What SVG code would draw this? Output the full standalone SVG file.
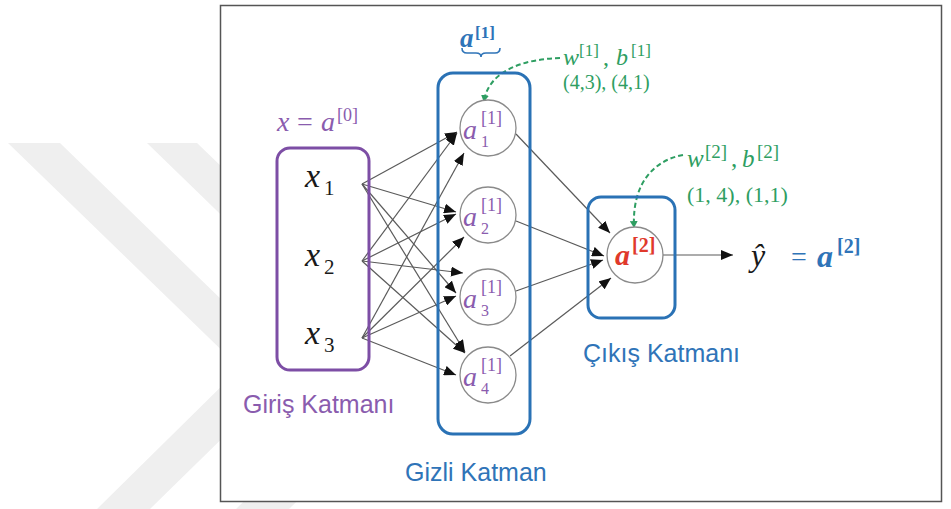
<svg xmlns="http://www.w3.org/2000/svg" width="951" height="509" viewBox="0 0 951 509">
<style>
.mi{font-family:"Liberation Serif",serif;font-style:italic}
.up{font-family:"Liberation Serif",serif;font-style:normal}
.sans{font-family:"Liberation Sans",Arial,sans-serif}
.pur{fill:#8a5cae}
.blu{fill:#2f74b8}
.grn{fill:#2e9e62}
.red{fill:#e0392b}
.blk{fill:#1a1a1a}
.conn{stroke:#5a5a5a;stroke-width:1.2;fill:none;marker-end:url(#ah)}
.dash{stroke:#2e9e62;stroke-width:2;stroke-dasharray:5 3;fill:none;marker-end:url(#gh)}
.node{fill:#fff;stroke:#8a8a8a;stroke-width:1.3}
.hb{fill:none;stroke:#2a72b5;stroke-width:3}
.pb{fill:none;stroke:#7d4ea5;stroke-width:3}
.lbl{font-size:25px}
.ha{font-size:28px}
.hs{font-size:18px}
.hd{font-size:16px}
</style>
<defs>
<marker id="ah" markerUnits="userSpaceOnUse" markerWidth="13" markerHeight="10" refX="12" refY="5" orient="auto">
<path d="M0,0 L12,5 L0,10 z" fill="#111"/>
</marker>
<marker id="gh" markerUnits="userSpaceOnUse" markerWidth="8" markerHeight="8" refX="6" refY="4" orient="auto">
<path d="M0,0 L7,4 L0,8 z" fill="#2e9e62"/>
</marker>
</defs>
<rect x="0" y="0" width="951" height="509" fill="#fff"/>
<g id="watermark" fill="#efefef">
<polygon points="8,143 60,143 293,369 150,509 97,509 240,368"/>
<polygon points="147,143 197,143 432,369 289,509 236,509 379,368"/>
</g>
<rect id="frame" x="220.5" y="5.5" width="721" height="496" fill="#fff" stroke="#555" stroke-width="1.5"/>

<g id="connectors">
<line class="conn" x1="362" y1="184" x2="457" y2="132"/>
<line class="conn" x1="362" y1="261" x2="457" y2="133"/>
<line class="conn" x1="362" y1="338" x2="464" y2="153"/>
<line class="conn" x1="362" y1="184" x2="456" y2="212"/>
<line class="conn" x1="362" y1="261" x2="456" y2="214"/>
<line class="conn" x1="362" y1="338" x2="464" y2="237"/>
<line class="conn" x1="362" y1="184" x2="456" y2="293"/>
<line class="conn" x1="362" y1="261" x2="463" y2="273"/>
<line class="conn" x1="362" y1="338" x2="456" y2="296"/>
<line class="conn" x1="362" y1="184" x2="465" y2="352"/>
<line class="conn" x1="362" y1="261" x2="465" y2="353"/>
<line class="conn" x1="362" y1="338" x2="456" y2="375"/>
<line class="conn" x1="516" y1="134" x2="610" y2="233"/>
<line class="conn" x1="516" y1="221" x2="604" y2="256"/>
<line class="conn" x1="516" y1="291" x2="603" y2="260"/>
<line class="conn" x1="510" y1="356" x2="611" y2="278"/>
<line class="conn" x1="662" y1="255" x2="733" y2="255"/>
<path class="dash" d="M560,58 C525,59 489,70 484,101"/>
<path class="dash" d="M683,155 C655,160 632,182 634,227"/>
</g>

<g id="input-layer">
<rect class="pb" x="277" y="148" width="92" height="222" rx="13"/>
<text class="mi pur" x="277" y="131" font-size="28">x</text>
<text class="up pur" x="297" y="131" font-size="28">=</text>
<text class="mi pur" x="321" y="131" font-size="28">a</text>
<text class="up pur" x="337" y="121" font-size="18">[0]</text>
<text class="sans pur lbl" x="243" y="413">Giriş Katmanı</text>
</g>
<g id="x1"><text class="mi blk" x="305" y="187" font-size="34">x</text><text class="up blk" x="324" y="195" font-size="21">1</text></g>
<g id="x2"><text class="mi blk" x="305" y="266" font-size="34">x</text><text class="up blk" x="324" y="274" font-size="21">2</text></g>
<g id="x3"><text class="mi blk" x="305" y="344" font-size="34">x</text><text class="up blk" x="324" y="352" font-size="21">3</text></g>

<g id="hidden-layer">
<rect class="hb" x="438" y="73" width="92" height="361" rx="15"/>
<text class="mi blu" x="460" y="47" font-size="27" font-weight="bold">a</text>
<text class="up blu" x="475" y="38" font-size="17" font-weight="bold">[1]</text>
<path d="M462,48 Q462,53 467,53 L476,53 Q481,53 481,57 Q481,53 486,53 L495,53 Q500,53 500,48" fill="none" stroke="#2f74b8" stroke-width="1.6"/>
<text class="mi grn" x="563" y="65" font-size="24">w</text>
<text class="up grn" x="579" y="56" font-size="17">[1]</text>
<text class="up grn" x="603" y="65" font-size="24">,</text>
<text class="mi grn" x="616" y="65" font-size="24">b</text>
<text class="up grn" x="631" y="56" font-size="17">[1]</text>
<text class="up grn" x="563" y="89" font-size="20">(4,3), (4,1)</text>
<text class="sans blu lbl" x="405" y="481">Gizli Katman</text>
</g>
<g id="a1"><circle class="node" cx="488" cy="128" r="28"/><text class="mi pur ha" x="463" y="139">a</text><text class="up pur hs" x="481" y="124">[1]</text><text class="up pur hd" x="481" y="147">1</text></g>
<g id="a2"><circle class="node" cx="488" cy="215" r="28"/><text class="mi pur ha" x="463" y="226">a</text><text class="up pur hs" x="481" y="211">[1]</text><text class="up pur hd" x="481" y="234">2</text></g>
<g id="a3"><circle class="node" cx="488" cy="297" r="28"/><text class="mi pur ha" x="463" y="308">a</text><text class="up pur hs" x="481" y="293">[1]</text><text class="up pur hd" x="481" y="316">3</text></g>
<g id="a4"><circle class="node" cx="488" cy="375" r="28"/><text class="mi pur ha" x="463" y="386">a</text><text class="up pur hs" x="481" y="371">[1]</text><text class="up pur hd" x="481" y="394">4</text></g>

<g id="output-layer">
<rect class="hb" x="588" y="197" width="87" height="121" rx="13"/>
<text class="mi grn" x="687" y="167" font-size="25">w</text>
<text class="up grn" x="705" y="158" font-size="19">[2]</text>
<text class="up grn" x="731" y="167" font-size="25">,</text>
<text class="mi grn" x="742" y="167" font-size="25">b</text>
<text class="up grn" x="757" y="158" font-size="19">[2]</text>
<text class="up grn" x="687" y="202" font-size="22">(1, 4), (1,1)</text>
<text class="sans blu lbl" x="583" y="362">Çıkış Katmanı</text>
</g>
<g id="a-out"><circle class="node" cx="635" cy="255" r="28"/><text class="mi red" x="615" y="265" font-size="30" font-weight="bold">a</text><text class="up red" x="632" y="252" font-size="20" font-weight="bold">[2]</text></g>

<g id="y-hat">
<text class="mi blk" x="751" y="266" font-size="32">ŷ</text>
<text class="up blu" x="791" y="266" font-size="28">=</text>
<text class="mi blu" x="817" y="267" font-size="32" font-weight="bold">a</text>
<text class="up blu" x="837" y="253" font-size="20" font-weight="bold">[2]</text>
</g>
</svg>
